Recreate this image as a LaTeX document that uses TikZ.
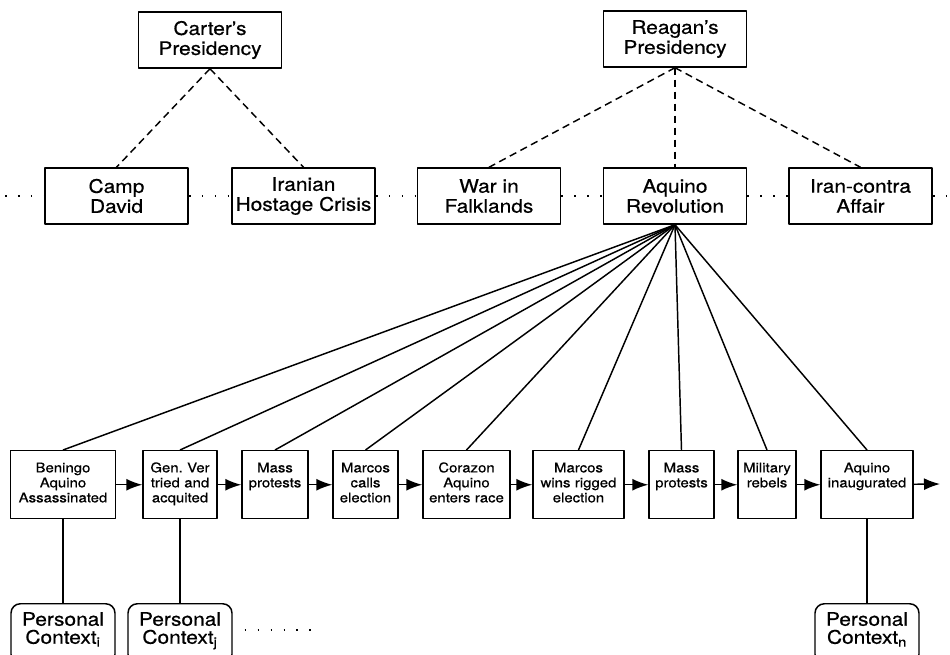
\documentclass[tikz,border=0pt]{standalone}
\usepackage{fontspec}
\setmainfont{TeX Gyre Heros}[FakeStretch=1.12,FakeBold=0.6]
\usetikzlibrary{arrows.meta}
\begin{document}
\begin{tikzpicture}[x=0.75pt,y=-0.75pt,line join=round,line width=1.1pt,
  topic/.style={draw,align=center,font=\fontsize{14}{15}\selectfont,minimum width=107.5pt,minimum height=42pt,inner sep=1pt},
  event/.style={draw,align=center,anchor=north,inner xsep=0pt,inner ysep=3pt,font=\fontsize{10}{11.25}\selectfont,text height=13.2pt,text depth=31.8pt},
  ctx/.style={draw,rounded corners=7pt,align=center,anchor=north,text width=72pt,inner sep=3pt,font=\fontsize{14}{13.5}\selectfont,text height=13.5pt,text depth=25.5pt},
  dashes/.style={dash pattern=on 5.5pt off 3.5pt},
  dots/.style={line width=1pt,dash pattern=on 1.2pt off 8.5pt},
  flow/.style={-{Latex[length=12pt,width=9pt]}}]
\useasboundingbox (0,0) rectangle (950,654);
\clip (0,0) rectangle (950,654);
\node[topic] (carter) at (210,40) {Carter's\\Presidency};
\node[topic] (reagan) at (675,39) {Reagan's\\Presidency};
\foreach \n/\x/\t in {camp/116.5/{Camp\\David}, iran/303.5/{Iranian\\Hostage Crisis}, falk/489/{War in\\Falklands}, rev/675/{Aquino\\Revolution}, contra/860.5/{Iran-contra\\Affair}}
  \node[topic] (\n) at (\x,196) {\t};
\coordinate (lend) at (5,196);
\coordinate (rend) at (950,196);
\foreach \a/\b in {lend/camp,camp/iran,iran/falk,falk/rev,rev/contra,contra/rend}
  \draw[dots] (\a) -- (\b);
\foreach \n in {camp,iran} \draw[dashes] (carter.south) -- (\n.north);
\foreach \n in {falk,rev,contra} \draw[dashes] (reagan.south) -- (\n.north);
% the revolution, step by step
\foreach \n/\x/\w/\t in {
  b1/63/78.75/{Beningo\\Aquino\\Assassinated},
  b2/180/55.5/{Gen.\ Ver\\tried and\\acquited},
  b3/275/49.5/{Mass\\protests},
  b4/365.5/48.75/{Marcos\\calls\\election},
  b5/466.5/65.25/{Corazon\\Aquino\\enters race},
  b6/578.5/68.25/{Marcos\\wins rigged\\election},
  b7/681.5/48.75/{Mass\\protests},
  b8/767/43.5/{Military\\rebels},
  b9/867/69/{Aquino\\inaugurated}}
  \node[event,text width=\w pt] (\n) at (\x,450) {\t};
\coordinate (fin) at (940,484);
\foreach \a/\b in {b1/b2,b2/b3,b3/b4,b4/b5,b5/b6,b6/b7,b7/b8,b8/b9,b9/fin}
  \draw[flow] (\a) -- (\b);
\foreach \i in {1,...,9} \draw (rev.south) -- (b\i.north);
% personal contexts
\foreach \n/\x/\s in {ci/63/i, cj/180/j, cn/867/n}
  \node[ctx] (\n) at (\x,603) {Personal\\Context\textsubscript{\s}};
\draw (b1) -- (ci);
\draw (b2) -- (cj);
\draw (b9) -- (cn);
\coordinate (cdots) at (315,630);
\draw[dots,shorten <=9pt] (cj.east |- cdots) -- (cdots);
\end{tikzpicture}
\end{document}
